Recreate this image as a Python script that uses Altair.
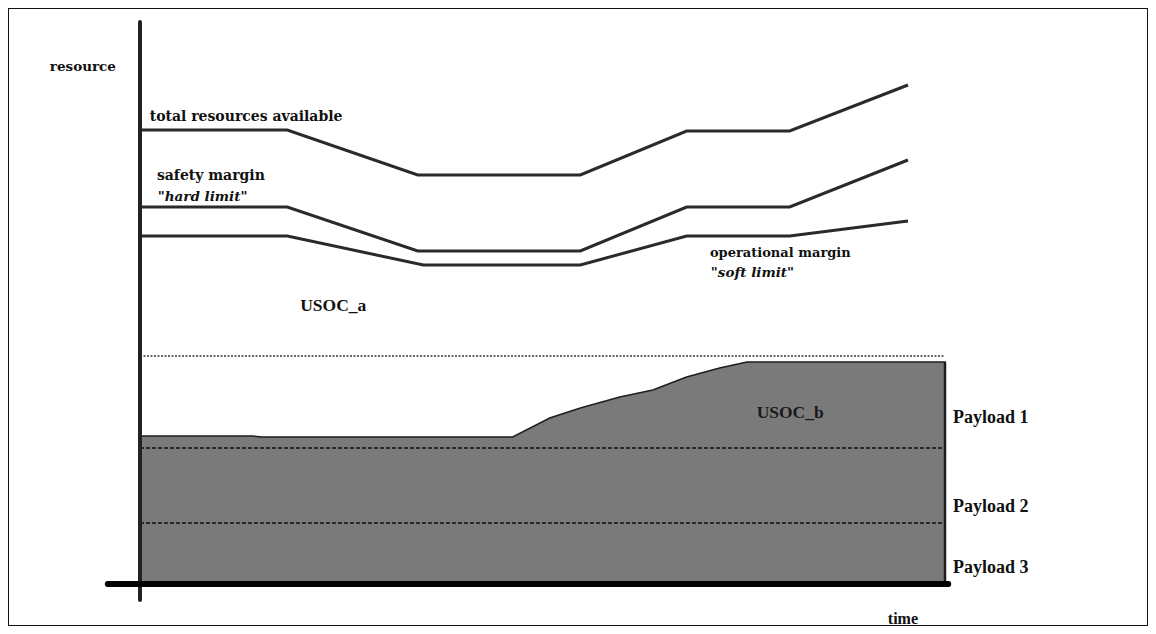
import altair as alt
import pandas as pd

# ---- data (time units 0..100, resource units 0..~100)
time_pts = [0, 18.3, 34.5, 54.7, 67.9, 80.7, 95.4]
total_res = [90.8, 90.8, 81.8, 81.8, 90.6, 90.6, 99.8]
safety_res = [75.4, 75.4, 66.6, 66.6, 75.4, 75.4, 84.8]
oper_time = [0, 18.3, 35.2, 54.7, 67.9, 80.7, 95.4]
oper_res = [69.6, 69.6, 63.8, 63.8, 69.6, 69.6, 72.6]

usoc_b_time = [0, 14.0, 15.2, 46.3, 50.9, 54.7, 59.6, 63.7, 67.9, 72.0, 75.4, 100]
usoc_b_res = [29.6, 29.6, 29.4, 29.4, 33.2, 35.2, 37.4, 38.8, 41.4, 43.2, 44.4, 44.4]

capacity_level = [45.6]
payload_bounds = [27.2, 12.2]
payload_end = 100

# axis extents
y_axis_t = [0]
y_axis_range = [-3.2, 112.4]
x_axis_r = [0]
x_axis_range = [-4.0, 100.4]

# labels
label_text = ["resource", "total resources available", "safety margin", "operational margin"]
label_t = [-11.2, 1.2, 2.1, 70.8]
label_r = [103.4, 93.4, 81.6, 66.2]
label_size = [13.5, 14, 14, 13]

italic_text = ['"hard limit"', '"soft limit"']
italic_t = [2.2, 70.9]
italic_r = [77.4, 62.2]

payload_text = ["Payload 1", "Payload 2", "Payload 3"]
payload_t = [101.0, 101.0, 101.0]
payload_r = [33.2, 15.4, 3.2]

time_text = ["time"]
time_t = [92.9]
time_r = [-6.9]

usoc_text = ["USOC_a"]
usoc_t = [19.9]
usoc_r = [55.6]

usocb_text = ["USOC_b"]
usocb_t = [76.6]
usocb_r = [34.2]

# ---- scales
XS = alt.Scale(domain=[-16.3975, 125.2174], nice=False, zero=False)
YS = alt.Scale(domain=[-8.4, 115.2], nice=False, zero=False)

def X(f="t"):
    return alt.X(f"{f}:Q", scale=XS, axis=None)

def Y(f="r"):
    return alt.Y(f"{f}:Q", scale=YS, axis=None)

LINE_COLOR = "#2a2a2a"

area_df = pd.DataFrame({"t": usoc_b_time, "r": usoc_b_res})
area = alt.Chart(area_df).mark_area(
    color="#7a7a7a", stroke="#1e1e1e", strokeWidth=1.5, interpolate="linear"
).encode(x=X(), y=Y(), y2=alt.datum(0))

edge = alt.Chart(pd.DataFrame({"t": [payload_end], "r": [0], "r2": [usoc_b_res[-1]]})).mark_rule(
    color="#1e1e1e", strokeWidth=2.5
).encode(x=X(), y=Y(), y2="r2:Q")

cap_df = pd.DataFrame({"r": capacity_level, "t": [0], "t2": [payload_end]})
cap = alt.Chart(cap_df).mark_rule(color="#333333", strokeWidth=1.3, strokeDash=[2, 1.5]).encode(
    x=X(), x2="t2:Q", y=Y()
)

pb_df = pd.DataFrame({"r": payload_bounds, "t": [0] * len(payload_bounds), "t2": [payload_end] * len(payload_bounds)})
pb = alt.Chart(pb_df).mark_rule(color="#111111", strokeWidth=1.6, strokeDash=[4, 2]).encode(
    x=X(), x2="t2:Q", y=Y()
)

lines_df = pd.concat([
    pd.DataFrame({"t": time_pts, "r": total_res, "s": "total"}),
    pd.DataFrame({"t": time_pts, "r": safety_res, "s": "safety"}),
    pd.DataFrame({"t": oper_time, "r": oper_res, "s": "operational"}),
])
lines = alt.Chart(lines_df).mark_line(color=LINE_COLOR, strokeWidth=3).encode(
    x=X(), y=Y(), detail="s:N"
)

vaxis = alt.Chart(pd.DataFrame({"t": y_axis_t, "r": [y_axis_range[0]], "r2": [y_axis_range[1]]})).mark_rule(
    color="#222222", strokeWidth=4, strokeCap="round"
).encode(x=X(), y=Y(), y2="r2:Q")

haxis = alt.Chart(pd.DataFrame({"r": x_axis_r, "t": [x_axis_range[0]], "t2": [x_axis_range[1]]})).mark_rule(
    color="#000000", strokeWidth=6, strokeCap="round"
).encode(x=X(), x2="t2:Q", y=Y())

def text_layer(texts, ts, rs, sizes=None, **kw):
    df = pd.DataFrame({"text": texts, "t": ts, "r": rs})
    enc = dict(x=X(), y=Y(), text="text:N")
    if sizes is not None:
        df["fs"] = sizes
        enc["size"] = alt.Size("fs:Q", scale=None, legend=None)
    return alt.Chart(df).mark_text(align="left", baseline="middle", **kw).encode(**enc)

labels = text_layer(label_text, label_t, label_r, sizes=label_size, font="DejaVu Serif",
                    fontWeight="bold", color="#111111")
italics = text_layer(italic_text, italic_t, italic_r, font="DejaVu Serif", fontWeight="bold",
                     fontStyle="italic", fontSize=13.5, color="#111111")
payloads = text_layer(payload_text, payload_t, payload_r, font="Liberation Serif", fontWeight="bold",
                      fontSize=18, color="#111111")
time_lbl = text_layer(time_text, time_t, time_r, font="Liberation Serif", fontWeight="bold",
                      fontSize=16, color="#111111")
usoc_a = text_layer(usoc_text, usoc_t, usoc_r, font="Liberation Serif", fontWeight="bold",
                    fontSize=17.5, color="#111111")
usoc_b = text_layer(usocb_text, usocb_t, usocb_r, font="Liberation Serif", fontWeight="bold",
                    fontSize=17.5, color="#1a1a1a")

chart = alt.layer(
    area, edge, cap, pb, lines, vaxis, haxis, labels, italics, payloads, time_lbl, usoc_a, usoc_b
).properties(
    width=1140, height=618, autosize=alt.AutoSizeParams(type="none"), padding=0,
    background="white"
).configure_view(stroke="#111111", strokeWidth=2)

chart.save("out.html", embed_options={"renderer": "svg", "actions": False})
